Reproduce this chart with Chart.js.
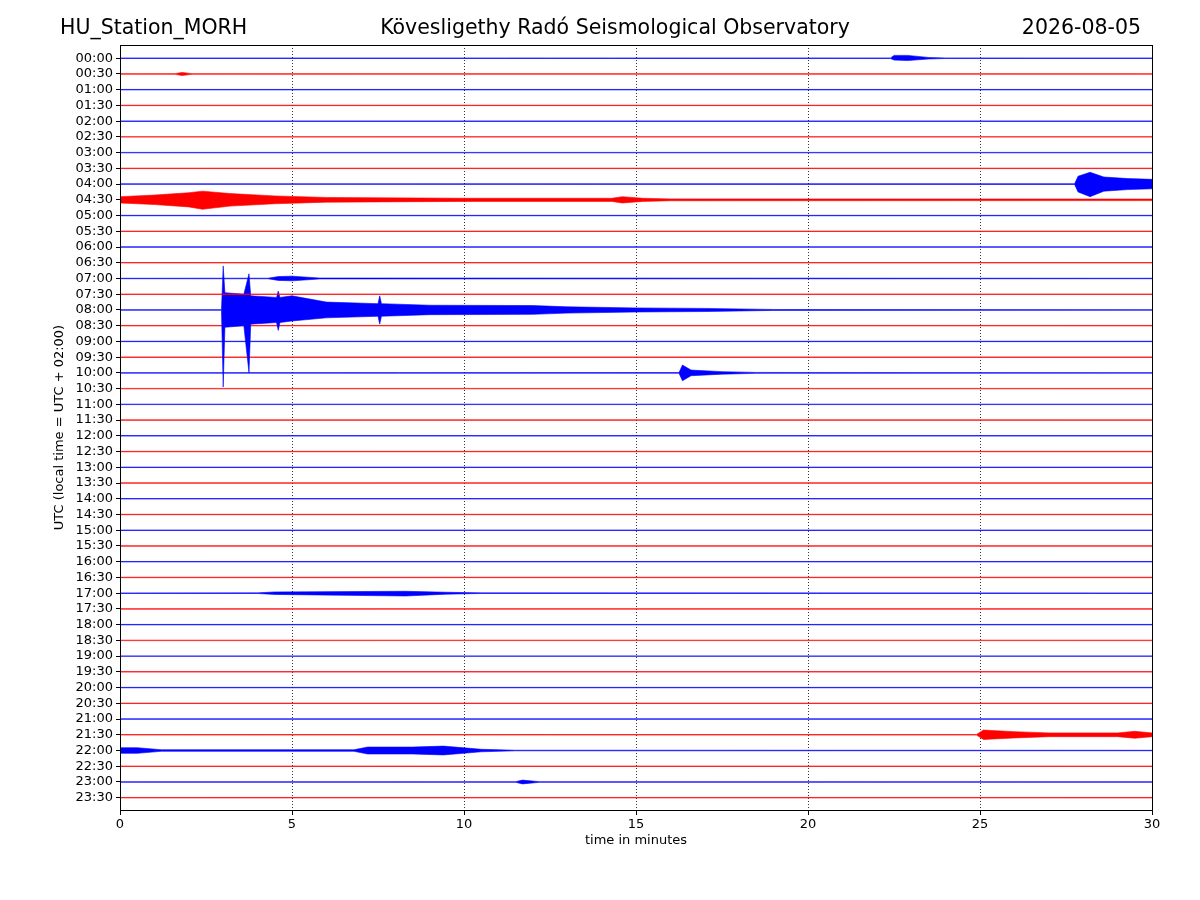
<!DOCTYPE html>
<html>
<head>
<meta charset="utf-8">
<script src="https://cdn.jsdelivr.net/npm/chart.js@4.4.1/dist/chart.umd.min.js"></script>
<style>
  body { margin: 0; background: #fff; }
</style>
</head>
<body>
<canvas id="heli" width="1200" height="900"></canvas>
<script>
// row labels (UTC start of each 30 minute trace)
const rowLabels = [];
for (let h = 0; h < 24; h++) {
  const hh = String(h).padStart(2, "0");
  rowLabels.push(hh + ":00", hh + ":30");
}
const xTicks = [0, 5, 10, 15, 20, 25, 30];
const quietAmp = 0.015;

// events: row -> [minute, up, down] envelope points (in trace spacings)
const rowEvents = {
  0: [[22.4, 0.02, 0.02], [22.5, 0.18, 0.12], [22.9, 0.18, 0.15], [23.5, 0.05, 0.05], [24, 0.02, 0.02]],
  1: [[1.6, 0.02, 0.02], [1.8, 0.1, 0.1], [2.1, 0.02, 0.02]],
  8: [[27.75, 0.02, 0.02], [27.85, 0.5, 0.5], [28.2, 0.75, 0.8], [28.6, 0.45, 0.45], [29.3, 0.35, 0.35], [30, 0.3, 0.3]],
  9: [[0, 0.2, 0.2], [1, 0.3, 0.3], [2.0, 0.45, 0.45], [2.4, 0.55, 0.6], [3.2, 0.4, 0.4], [4.5, 0.25, 0.25], [6, 0.15, 0.15],
      [10, 0.1, 0.1], [14.3, 0.1, 0.1], [14.6, 0.2, 0.2], [15.2, 0.1, 0.1], [16, 0.06, 0.06], [30, 0.05, 0.05]],
  14: [[4.3, 0.02, 0.02], [4.6, 0.12, 0.12], [5.0, 0.15, 0.15], [5.8, 0.03, 0.03]],
  16: [[2.95, 0.02, 0.02], [3.0, 2.8, 4.9], [3.05, 1.1, 1.1], [3.6, 1.0, 1.0], [3.75, 2.3, 4.0], [3.8, 0.9, 0.9],
       [4.55, 0.8, 0.8], [4.6, 1.2, 1.3], [4.65, 0.8, 0.8], [5.0, 0.9, 0.7], [6.0, 0.5, 0.5], [7.5, 0.4, 0.4],
       [7.55, 0.9, 0.9], [7.6, 0.4, 0.4], [9.0, 0.3, 0.3], [12.0, 0.28, 0.28], [13.0, 0.2, 0.2], [15.0, 0.13, 0.13],
       [17.0, 0.1, 0.1], [19.0, 0.03, 0.03]],
  20: [[16.25, 0.02, 0.02], [16.35, 0.5, 0.5], [16.6, 0.18, 0.18], [17.5, 0.08, 0.08], [18.5, 0.03, 0.03]],
  34: [[4.0, 0.02, 0.02], [4.5, 0.08, 0.08], [8.3, 0.12, 0.18], [9.5, 0.06, 0.06], [10.5, 0.02, 0.02]],
  43: [[24.9, 0.02, 0.02], [25.1, 0.3, 0.3], [26.0, 0.2, 0.2], [27.0, 0.12, 0.12], [29.0, 0.12, 0.12], [29.5, 0.22, 0.22], [30, 0.12, 0.12]],
  44: [[0, 0.18, 0.18], [0.5, 0.18, 0.18], [1.2, 0.05, 0.05], [6.8, 0.05, 0.05], [7.2, 0.22, 0.22], [8.5, 0.22, 0.22], [9.4, 0.28, 0.28], [10.5, 0.08, 0.08], [11.5, 0.02, 0.02]],
  46: [[11.5, 0.02, 0.02], [11.7, 0.12, 0.12], [12.2, 0.02, 0.02]]
};

const datasets = [];
rowLabels.forEach((lab, r) => {
  const color = r % 2 === 0 ? "#0000ff" : "#ff0000";
  let env = rowEvents[r] || [];
  const pts = [];
  if (!env.length || env[0][0] > 0) pts.push([0, quietAmp, quietAmp]);
  pts.push(...env);
  if (!env.length || env[env.length - 1][0] < 30) pts.push([30, quietAmp, quietAmp]);
  const common = { borderColor: color, backgroundColor: color, borderWidth: 0.6, pointRadius: 0, tension: 0, showLine: true };
  datasets.push({ ...common, label: lab + " up", data: pts.map(p => ({ x: p[0], y: r - p[1] })), fill: false });
  datasets.push({ ...common, label: lab + " down", data: pts.map(p => ({ x: p[0], y: r + p[2] })), fill: "-1" });
});

const frame = {
  id: "frame",
  beforeDatasetsDraw(chart) {
    const { ctx, chartArea: a, scales } = chart;
    ctx.save();
    ctx.strokeStyle = "#000";
    ctx.lineWidth = 0.8;
    ctx.setLineDash([1, 2]);
    xTicks.slice(1, -1).forEach(v => {
      const x = Math.round(scales.x.getPixelForValue(v)) + 0.5;
      ctx.beginPath(); ctx.moveTo(x, a.top); ctx.lineTo(x, a.bottom); ctx.stroke();
    });
    ctx.restore();
  },
  afterDraw(chart) {
    const { ctx, chartArea: a } = chart;
    ctx.save();
    ctx.strokeStyle = "#000";
    ctx.lineWidth = 1;
    ctx.strokeRect(a.left + 0.5, a.top + 0.5, a.right - a.left, a.bottom - a.top);
    ctx.fillStyle = "#000";
    ctx.font = "20.5px 'DejaVu Sans'";
    ctx.textBaseline = "middle";
    ctx.textAlign = "left"; ctx.fillText("HU_Station_MORH", 60, 29);
    ctx.textAlign = "center"; ctx.fillText("Kövesligethy Radó Seismological Observatory", 615, 29);
    ctx.textAlign = "right"; ctx.fillText("2026-08-05", 1141, 29);
    ctx.restore();
  }
};

new Chart(document.getElementById("heli"), {
  type: "scatter",
  data: { datasets },
  plugins: [frame],
  options: {
    responsive: false,
    animation: false,
    layout: { padding: { top: 45, right: 48, left: 48, bottom: 48 } },
    plugins: { legend: { display: false }, tooltip: { enabled: false } },
    scales: {
      x: {
        type: "linear", min: 0, max: 30,
        afterBuildTicks: s => { s.ticks = xTicks.map(v => ({ value: v })); },
        afterFit: s => { s.height = 42; },
        grid: { drawOnChartArea: false, color: "#000", tickLength: 5 },
        border: { color: "#000" },
        ticks: { color: "#000", font: { family: "DejaVu Sans", size: 13 }, padding: 2, maxRotation: 0 },
        title: { display: true, text: "time in minutes", color: "#000", font: { family: "DejaVu Sans", size: 13 }, padding: { top: 2 } }
      },
      y: {
        type: "linear", min: -0.84, max: 47.78, reverse: true,
        afterBuildTicks: s => { s.ticks = rowLabels.map((l, i) => ({ value: i })); },
        afterFit: s => { s.width = 72; },
        grid: { drawOnChartArea: false, color: "#000", tickLength: 4 },
        border: { color: "#000" },
        ticks: { color: "#000", font: { family: "DejaVu Sans", size: 13 }, padding: 3, autoSkip: false,
                 callback: v => rowLabels[v] },
        title: { display: true, text: "UTC (local time = UTC + 02:00)", color: "#000", font: { family: "DejaVu Sans", size: 13 }, padding: { bottom: 4 } }
      }
    }
  }
});
</script>
</body>
</html>
